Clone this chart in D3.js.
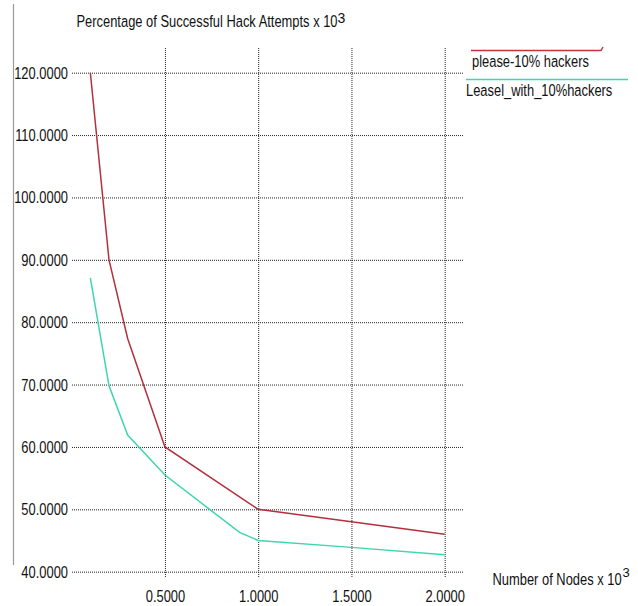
<!DOCTYPE html>
<html>
<head>
<meta charset="utf-8">
<script src="https://cdn.jsdelivr.net/npm/d3@7"></script>
<style>
  body { margin: 0; background: #fff; }
  text { font-family: "Liberation Sans", Arial, sans-serif; fill: #111; }
</style>
</head>
<body>
<div id="my_dataviz"></div>
<script>
// data (x in thousands of nodes)
var nodesPlease = [0.1, 0.2, 0.3, 0.5, 1.0, 1.5, 2.0];
var hackPlease  = [120, 90, 77.4, 60, 50, 48, 46];
var nodesLeasel = [0.1, 0.2, 0.3, 0.5, 0.9, 1.0, 1.5, 2.0];
var hackLeasel  = [87.1, 69.8, 61.9, 55.5, 46.3, 45, 43.9, 42.7];
var seriesNames = ["please-10% hackers", "Leasel_with_10%hackers"];
var seriesColors = ["#b3303c", "#3ed6ae"];
var xTicks = [0.5, 1.0, 1.5, 2.0];
var yTicks = [40, 50, 60, 70, 80, 90, 100, 110, 120];

var W = 638, H = 606;
var plot = {left: 72, right: 463, top: 48, bottom: 577};
var squeeze = 0.76;

function narrow(sel, k) {
    // the original font is tall and condensed, so squeeze horizontally
    sel.each(function() {
        var t = d3.select(this);
        var x0 = +(t.attr("x") || 0);
        t.attr("x", x0 / k).attr("transform", "scale(" + k + ",1)");
    });
}

function init() {
    var svg = d3.select("#my_dataviz")
        .append("svg")
        .attr("width", W)
        .attr("height", H);

    var x = d3.scaleLinear().domain([0, 2]).range([71.7, 444.7]);
    var y = d3.scaleLinear().domain([40, 120]).range([571.7, 72.7]);

    // left page border
    svg.append("line")
        .attr("x1", 13.5).attr("x2", 13.5)
        .attr("y1", 4).attr("y2", 565)
        .attr("stroke", "#999").attr("stroke-width", 1.2);

    // horizontal grid + y labels
    var gy = svg.append("g")
        .attr("transform", "translate(" + plot.left + ",0)")
        .call(d3.axisLeft(y).tickValues(yTicks)
            .tickSize(-(plot.right - plot.left))
            .tickPadding(4)
            .tickFormat(d3.format(".4f")));
    gy.select(".domain").remove();
    gy.selectAll("line").attr("stroke", "#222").attr("stroke-dasharray", "1,1");
    gy.selectAll("text").attr("font-size", 17).attr("fill", "#111")
        .attr("font-family", null).call(narrow, squeeze);

    // vertical grid + x labels
    var gx = svg.append("g")
        .attr("transform", "translate(0," + plot.bottom + ")")
        .call(d3.axisBottom(x).tickValues(xTicks)
            .tickSize(-(plot.bottom - plot.top))
            .tickPadding(13)
            .tickFormat(d3.format(".4f")));
    gx.select(".domain").remove();
    gx.selectAll("line").attr("stroke", "#222").attr("stroke-dasharray", "1,1");
    gx.selectAll("text").attr("font-size", 17).attr("fill", "#111")
        .attr("font-family", null).call(narrow, squeeze);

    // curves
    var line = d3.line().x(d => x(d[0])).y(d => y(d[1]));
    var s1 = d3.zip(nodesPlease, hackPlease);
    var s2 = d3.zip(nodesLeasel, hackLeasel);
    [s2, s1].forEach(function(s, i) {
        svg.append("path")
            .datum(s)
            .attr("d", line)
            .attr("fill", "none")
            .attr("stroke", seriesColors[1 - i])
            .attr("stroke-width", 1.5);
    });

    // title
    svg.append("text").attr("x", 76.5).attr("y", 27).attr("font-size", 17)
        .text("Percentage of Successful Hack Attempts x 10")
        .call(narrow, squeeze);
    svg.append("text").attr("x", 337.5).attr("y", 23).attr("font-size", 14).text("3");

    // x axis label
    svg.append("text").attr("x", 492.5).attr("y", 585).attr("font-size", 17)
        .text("Number of Nodes x 10")
        .call(narrow, squeeze);
    svg.append("text").attr("x", 622.5).attr("y", 577).attr("font-size", 13).text("3");

    // legend
    var lg = svg.append("g");
    lg.append("path")
        .attr("d", "M471,50.5H601L603,47")
        .attr("fill", "none").attr("stroke", "#c8333a").attr("stroke-width", 1.5);
    lg.append("text").attr("x", 472).attr("y", 67).attr("font-size", 17)
        .text(seriesNames[0]).call(narrow, squeeze);
    lg.append("line")
        .attr("x1", 466).attr("x2", 628).attr("y1", 79.5).attr("y2", 79.5)
        .attr("stroke", seriesColors[1]).attr("stroke-width", 1.5);
    lg.append("text").attr("x", 466).attr("y", 96.5).attr("font-size", 17)
        .text(seriesNames[1]).call(narrow, squeeze);
}

init();
</script>
</body>
</html>
